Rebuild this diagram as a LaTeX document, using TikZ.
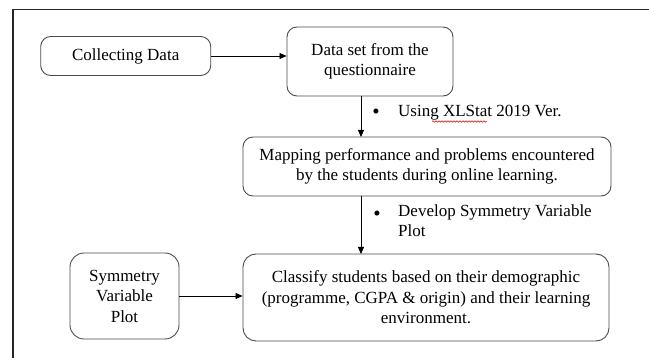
\documentclass[tikz,border=0pt]{standalone}
\usepackage{fontspec}
\setmainfont{Liberation Serif}
\usetikzlibrary{arrows.meta,decorations.pathmorphing}
\begin{document}
\begin{tikzpicture}[x=1pt,y=-1pt,
  box/.style={draw=black!70,line width=0.9pt,rounded corners=10pt,align=center,inner sep=0pt,
    font=\fontsize{17}{20.5}\selectfont},
  conn/.style={line width=0.8pt,-{Triangle[length=7pt,width=6pt]}},
  lbl/.style={inner sep=0pt,anchor=west,align=left,font=\fontsize{17}{20.5}\selectfont},
  bul/.style={inner sep=0pt,font=\fontsize{21}{21}\selectfont}]
\useasboundingbox (0,0) rectangle (649,358);
\fill[white] (0,0) rectangle (649,358);
% frame
\draw[line width=1.3pt,black!85] (13,358) -- (13,9.5) -- (649,9.5);
% nodes
\node[box,minimum width=170pt,minimum height=39pt] (collect) at (125.7,56) {Collecting Data};
\node[box,minimum width=166pt,minimum height=69pt] (dataset) at (370,61.5) {Data set from the\\questionnaire};
\node[box,minimum width=368pt,minimum height=59pt] (mapping) at (427,166.5) {Mapping performance and problems encountered\\by the students during online learning.};
\node[box,minimum width=366pt,minimum height=87pt,rounded corners=13pt] (classify) at (426,297.5) {Classify students based on their demographic\\(programme, CGPA \& origin) and their learning\\environment.};
\node[box,minimum width=109pt,minimum height=86pt,rounded corners=14pt] (symm) at (124.5,296) {Symmetry\\Variable\\Plot};
% labels
\node[bul] (b1) at (376,114) {\textbullet};
\node[lbl] (l1) at (398,113) {Using XLStat 2019 Ver.};
\node[bul] (b2) at (377,216) {\textbullet};
\node[lbl,anchor=north west] (l2) at (398,204.5) {Develop Symmetry Variable\\Plot};
% spellcheck squiggle under XLStat
\coordinate (sq1) at (432,121.5);
\coordinate (sq2) at (487,121.5);
\draw[red!80!black,line width=0.5pt,decorate,decoration={snake,amplitude=0.8pt,segment length=3pt}] (sq1) -- (sq2);
% connectors
\draw[conn] (collect.east) -- (collect.east -| dataset.west);
\coordinate (a1) at (361,96);
\coordinate (a2) at (361,137);
\draw[conn] (a1) -- (a2);
\coordinate (a3) at (361,196);
\coordinate (a4) at (361,254);
\draw[conn] (a3) -- (a4);
\draw[conn] (symm.east) -- (symm.east -| classify.west);
\end{tikzpicture}
\end{document}
